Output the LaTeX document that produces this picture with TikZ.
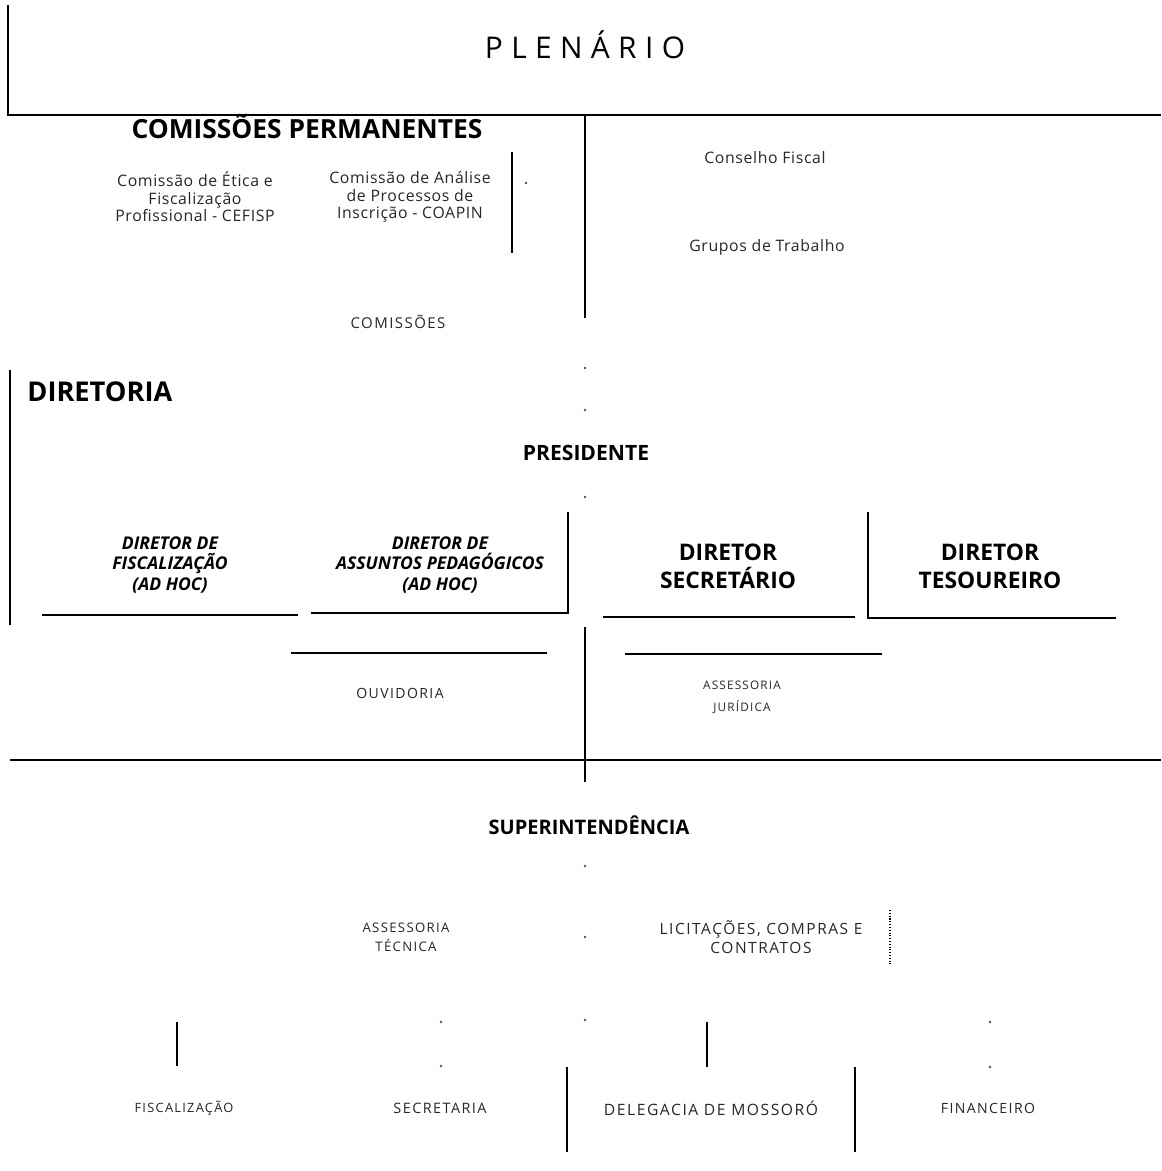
\documentclass[tikz,border=0pt]{standalone}
\usepackage{fontspec}
\setmainfont{Open Sans}
\newfontfamily\spacedfont[LetterSpace=28]{Open Sans}
\newfontfamily\widefont[LetterSpace=10]{Open Sans}
\newfontfamily\airyfont[LetterSpace=4]{Open Sans}
\usetikzlibrary{positioning}

\begin{document}
\begin{tikzpicture}[
        x=0.02cm, y=-0.02cm,
        rule/.style={line width=0.8pt, black},
        thinrule/.style={line width=0.6pt, black},
        speck/.style={fill=black!70},
        title/.style={font=\spacedfont\fontsize{17}{20}\selectfont, inner sep=0pt},
        head/.style={font=\bfseries\fontsize{13}{16}\selectfont, align=center, inner sep=0pt},
        subhead/.style={font=\bfseries\fontsize{12}{14}\selectfont, align=center, inner sep=0pt},
        adhoc/.style={font=\bfseries\itshape\fontsize{10}{11.6}\selectfont, align=center, inner sep=0pt},
        small/.style={font=\airyfont\fontsize{9}{10}\selectfont, align=center, inner sep=0pt, text=black!85},
        caps/.style={font=\widefont\fontsize{7.5}{11}\selectfont, align=center, inner sep=0pt, text=black!85}
    ]
        \useasboundingbox (0,0) rectangle (1161,1171);

        % plenario
        \node[title] (plenario) at (585,45) {PLENÁRIO};
        \draw[rule] (8,5) -- (8,115) -- (1161,115);
        \draw[rule] (585,115) -- (585,318);

        % comissoes
        \node[head, font=\bfseries\fontsize{15}{16}\selectfont] (permanentes) at (307,126) {COMISSÕES PERMANENTES};
        \node[small] (cefisp) at (195,197) {Comissão de Ética e\\Fiscalização\\Profissional - CEFISP};
        \node[small] (coapin) at (410,197) {Comissão de Análise\\de Processos de\\Inscrição - COAPIN};
        \draw[rule] (512,152) -- (512,253);
        \node[small] (conselho) at (765,158) {Conselho Fiscal};
        \node[small] (grupos) at (767,247) {Grupos de Trabalho};
        \node[caps, font=\widefont\fontsize{8.5}{11}\selectfont] (comissoes) at (398,322) {COMISSÕES};

        % diretoria
        \node[head, font=\bfseries\fontsize{15.5}{16}\selectfont, anchor=west] (diretoria) at (27,392) {DIRETORIA};
        \draw[rule] (10,370) -- (10,625);
        \node[subhead] (presidente) at (586,453) {PRESIDENTE};
        \node[adhoc] (dirfisc) at (170,565) {DIRETOR DE\\FISCALIZAÇÃO\\(AD HOC)};
        \node[adhoc] (dirped) at (440,565) {DIRETOR DE\\ASSUNTOS PEDAGÓGICOS\\(AD HOC)};
        \node[head] (dirsec) at (728,566) {DIRETOR\\SECRETÁRIO};
        \node[head] (dirtes) at (990,566) {DIRETOR\\TESOUREIRO};
        \draw[rule] (42,615) -- (298,615);
        \draw[rule] (311,613) -- (568,613) -- (568,512);
        \draw[rule] (603,617) -- (855,617);
        \draw[rule] (868,512) -- (868,618) -- (1116,618);

        % assessorias da diretoria
        \draw[rule] (585,627) -- (585,782);
        \draw[thinrule] (291,653) -- (547,653);
        \draw[thinrule] (625,654) -- (882,654);
        \node[caps, font=\widefont\fontsize{8}{11}\selectfont] (ouvidoria) at (400,693) {OUVIDORIA};
        \node[caps, font=\widefont\fontsize{6.7}{12.5}\selectfont] (juridica) at (742,697) {ASSESSORIA\\JURÍDICA};
        \draw[thinrule] (10,760) -- (1161,760);

        % superintendencia
        \node[subhead, font=\bfseries\fontsize{11.4}{12}\selectfont] (super) at (589,825) {SUPERINTENDÊNCIA};
        \node[caps, font=\widefont\fontsize{7.5}{10.8}\selectfont] (tecnica) at (406,937) {ASSESSORIA\\TÉCNICA};
        \node[caps, font=\widefont\fontsize{8.8}{10.8}\selectfont] (licit) at (761,937) {LICITAÇÕES, COMPRAS E\\CONTRATOS};
        \draw[thinrule, densely dotted] (890,910) -- (890,965);

        % setores
        \node[caps, font=\widefont\fontsize{7.3}{10}\selectfont] (fisc) at (184,1108) {FISCALIZAÇÃO};
        \node[caps, font=\widefont\fontsize{8.2}{10}\selectfont] (secretaria) at (440,1108) {SECRETARIA};
        \node[caps, font=\widefont\fontsize{8.9}{10}\selectfont] (delegacia) at (711,1108) {DELEGACIA DE MOSSORÓ};
        \node[caps, font=\widefont\fontsize{8}{10}\selectfont] (financeiro) at (988,1108) {FINANCEIRO};
        \draw[rule] (177,1022) -- (177,1066);
        \draw[rule] (707,1022) -- (707,1067);
        \draw[rule] (567,1067) -- (567,1152);
        \draw[rule] (855,1067) -- (855,1152);

        % specks left by the scan
        \foreach \px/\py in {526/183, 585/368, 585/410, 585/497, 585/866, 585/937,
                             441/1022, 441/1066, 585/1020, 990/1022, 990/1067}
            \fill[speck] (\px,\py) circle (1.3);
    \end{tikzpicture}
\end{document}
